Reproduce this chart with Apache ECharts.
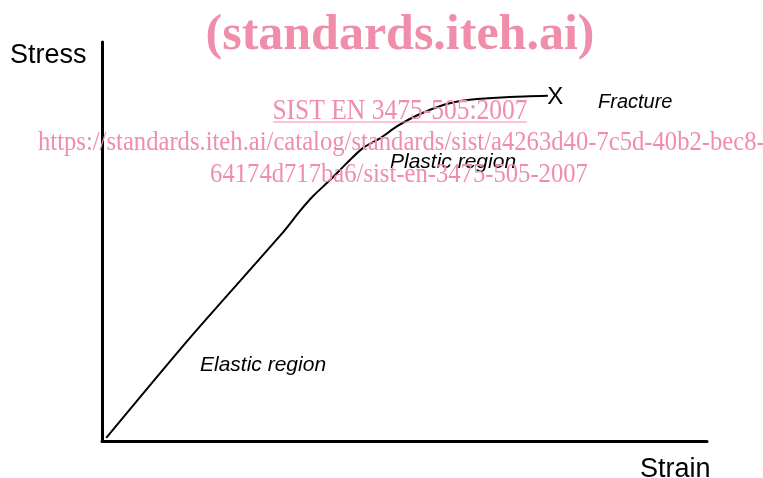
<!DOCTYPE html>
<html>
<head>
<meta charset="utf-8">
<script src="https://cdn.jsdelivr.net/npm/echarts@6/dist/echarts.min.js"></script>
<style>
  html, body { margin: 0; padding: 0; background: #fff; }
  #chart { width: 763px; height: 478px; }
</style>
</head>
<body>
<div id="chart"></div>
<script>
// strain / stress points (relative units, 0-100)
var strain = [0.7, 14.5, 29.8, 32.7, 34.9, 37.7, 40.5, 43.1, 46.0, 48.8, 52.2, 56.4, 59.2, 62.0, 67.4, 73.7];
var stress = [0.8, 25.8, 52.1, 57.6, 61.4, 65.4, 69.7, 73.4, 75.9, 78.9, 81.7, 84.2, 85.2, 85.7, 86.2, 86.5];
var fracture = [74.9, 86.0];

var curve = strain.map(function (x, i) { return [x, stress[i]]; });

var pink = '#ef8dab';
var myChart = echarts.init(document.getElementById('chart'));

myChart.setOption({
  animation: false,
  grid: { left: 102, right: 56, top: 42, bottom: 37 },
  xAxis: {
    type: 'value', min: 0, max: 100,
    axisLine: { lineStyle: { color: '#000', width: 3 } },
    axisTick: { show: false }, axisLabel: { show: false }, splitLine: { show: false }
  },
  yAxis: {
    type: 'value', min: 0, max: 100,
    axisLine: { show: true, lineStyle: { color: '#000', width: 3 } },
    axisTick: { show: false }, axisLabel: { show: false }, splitLine: { show: false }
  },
  series: [
    {
      type: 'line',
      data: curve,
      smooth: 0.25,
      symbol: 'none',
      lineStyle: { color: '#000', width: 2 }
    },
    {
      type: 'scatter',
      data: [fracture],
      symbolSize: 1,
      itemStyle: { color: 'transparent', opacity: 1 },
      label: {
        show: true, position: 'inside', formatter: 'X',
        color: '#000', opacity: 1, fontFamily: 'Arial', fontSize: 24
      }
    }
  ],
  graphic: [
    { type: 'text', left: 10, top: 42, style: { text: 'Stress', font: '27px Arial', fill: '#000' } },
    { type: 'text', left: 640, top: 456, style: { text: 'Strain', font: '27px Arial', fill: '#000' } },
    { type: 'text', left: 200, top: 355, style: { text: 'Elastic region', font: 'italic 21px Arial', fill: '#000' } },
    { type: 'text', left: 390, top: 152, style: { text: 'Plastic region', font: 'italic 21px Arial', fill: '#000' } },
    { type: 'text', left: 598, top: 92, style: { text: 'Fracture', font: 'italic 20px Arial', fill: '#000' } },
    { type: 'text', x: 400, y: 11, z: 10, style: { text: '(standards.iteh.ai)', font: 'bold 50px "Liberation Serif"', fill: pink, textAlign: 'center' } },
    { type: 'text', x: 400, y: 97, scaleX: 0.88, z: 10, style: { text: 'SIST EN 3475-505:2007', font: '29px "Liberation Serif"', fill: pink, textAlign: 'center' } },
    { type: 'line', z: 10, shape: { x1: 273, y1: 122, x2: 527, y2: 122 }, style: { stroke: pink, lineWidth: 1.2 } },
    { type: 'text', x: 38, y: 129, scaleX: 0.88, z: 10, style: { text: 'https://standards.iteh.ai/catalog/standards/sist/a4263d40-7c5d-40b2-bec8-', font: '28px "Liberation Serif"', fill: pink } },
    { type: 'text', x: 399, y: 161, scaleX: 0.88, z: 10, style: { text: '64174d717ba6/sist-en-3475-505-2007', font: '28px "Liberation Serif"', fill: pink, textAlign: 'center' } }
  ]
});
</script>
</body>
</html>
